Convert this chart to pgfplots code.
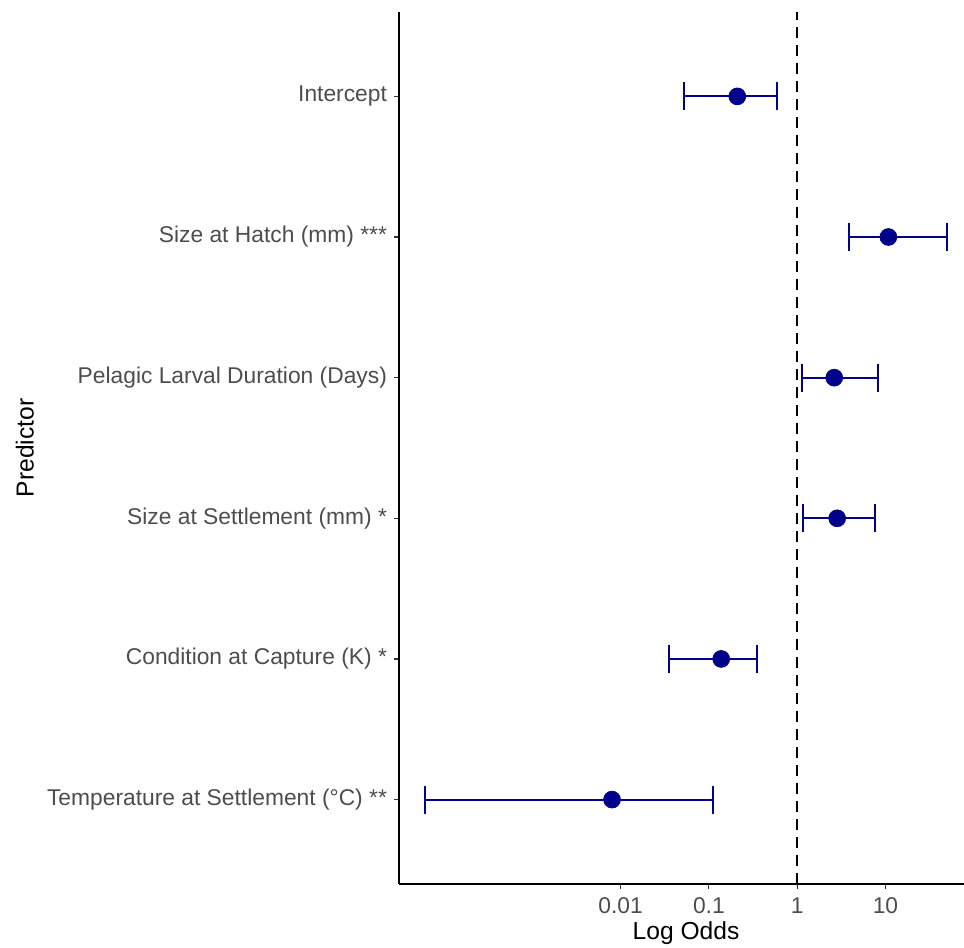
\documentclass[border=0pt]{standalone}
\usepackage{fontspec}
\setmainfont{Liberation Sans}
\usepackage{pgfplots}
\pgfplotsset{compat=1.18}
\definecolor{ptblue}{RGB}{0,0,139}
\definecolor{txtgray}{RGB}{77,77,77}

\begin{document}
\begin{tikzpicture}
\begin{axis}[
    scale only axis,
    width=282.5pt, height=436pt,
    xmode=log,
    xmin=3.09e-5, xmax=77.6,
    ymin=0.4, ymax=6.6,
    axis x line*=bottom, axis y line*=left,
    axis line style={black, line width=0.8pt},
    xtick={0.01,0.1,1,10},
    xticklabels={0.01,0.1,1,10},
    xminorticks=false,
    ytick={1,2,3,4,5,6},
    yticklabels={Temperature at Settlement (°C) **,
                 Condition at Capture (K) *,
                 Size at Settlement (mm) *,
                 Pelagic Larval Duration (Days),
                 Size at Hatch (mm) ***,
                 Intercept},
    tick align=outside,
    major tick length=2.5pt,
    tick style={black!80, line width=0.6pt},
    ticklabel style={font=\fontsize{11.4}{13}\selectfont, text=txtgray},
    xticklabel style={yshift=-1pt},
    /pgf/number format/assume math mode=true,
    xlabel={Log Odds},
    ylabel={Predictor},
    every axis x label/.style={at={(axis description cs:0.508,-0.0568)}, anchor=center,
        font=\fontsize{12.3}{14}\selectfont, text=black},
    every axis y label/.style={at={(axis description cs:-0.662,0.5)}, rotate=90, anchor=center,
        font=\fontsize{12.3}{14}\selectfont, text=black},
    clip=false,
]
\coordinate (bl) at (rel axis cs:0,0);
\coordinate (tr) at (rel axis cs:1,1);

% reference line at odds = 1
\addplot[black, line width=0.9pt, dash pattern=on 5.5pt off 3.5pt] coordinates {(1,0.4) (1,6.6)};

% confidence intervals
\addplot[ptblue, line width=1pt, mark=|, mark size=7pt] coordinates {(0.0525,6) (0.59,6)};
\addplot[ptblue, line width=1pt, mark=|, mark size=7pt] coordinates {(3.88,5) (50,5)};
\addplot[ptblue, line width=1pt, mark=|, mark size=7pt] coordinates {(1.14,4) (8.3,4)};
\addplot[ptblue, line width=1pt, mark=|, mark size=7pt] coordinates {(1.17,3) (7.6,3)};
\addplot[ptblue, line width=1pt, mark=|, mark size=7pt] coordinates {(0.0355,2) (0.352,2)};
\addplot[ptblue, line width=1pt, mark=|, mark size=7pt] coordinates {(6.1e-5,1) (0.112,1)};

% estimates
\addplot[only marks, mark=*, mark size=4.2pt, ptblue, mark options={fill=ptblue, draw=ptblue}]
    coordinates {(0.21,6) (10.8,5) (2.63,4) (2.84,3) (0.138,2) (0.0080,1)};
\end{axis}
\pgfresetboundingbox
\path[use as bounding box] ([xshift=-199.5pt,yshift=-32pt]bl) rectangle ([yshift=6pt]tr);
\end{tikzpicture}
\end{document}
